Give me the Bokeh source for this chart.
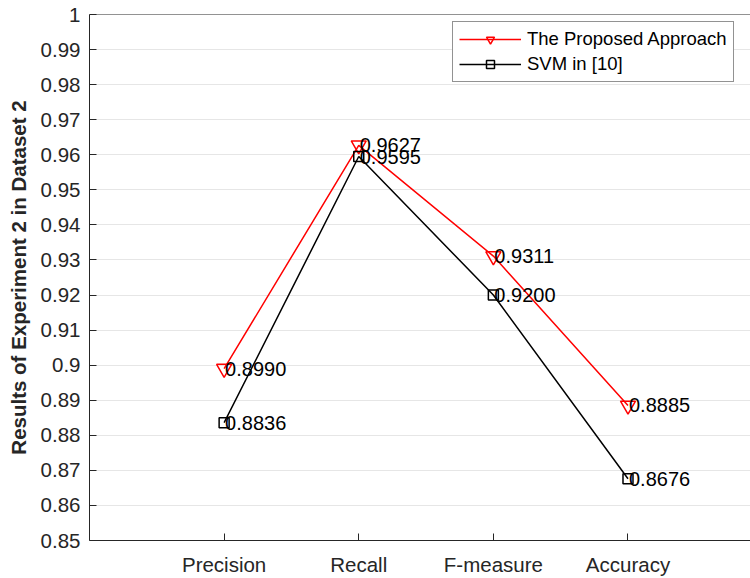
from bokeh.plotting import figure
from bokeh.models import (Range1d, FixedTicker, PrintfTickFormatter, Legend, LegendItem, Span)
from bokeh.core.properties import value
from bokeh.embed import file_html
from bokeh.resources import INLINE

categories = ["Precision", "Recall", "F-measure", "Accuracy"]
positions = [1, 2, 3, 4]
proposed = [0.8990, 0.9627, 0.9311, 0.8885]
svm = [0.8836, 0.9595, 0.9200, 0.8676]
y_ticks = [0.85, 0.86, 0.87, 0.88, 0.89, 0.90, 0.91, 0.92, 0.93, 0.94,
           0.95, 0.96, 0.97, 0.98, 0.99, 1.00]

FONT = "Liberation Sans"
AX = "#262626"

p = figure(width=750, height=578, output_backend="svg", toolbar_location=None,
           x_range=Range1d(0, 4.91), y_range=Range1d(0.85, 1.0),
           min_border_left=89, min_border_right=0, min_border_top=14, min_border_bottom=33)
p.outline_line_color = None
p.background_fill_color = "white"
p.border_fill_color = "white"

# axes
p.xaxis.ticker = FixedTicker(ticks=positions)
p.xaxis.major_label_overrides = {pos: c for pos, c in zip(positions, categories)}
p.yaxis.ticker = FixedTicker(ticks=y_ticks)
p.yaxis.formatter = PrintfTickFormatter(format="%g")
for ax in (p.xaxis, p.yaxis):
    ax.axis_line_color = AX
    ax.axis_line_width = 1
    ax.major_tick_line_color = AX
    ax.major_tick_in = 7
    ax.major_tick_out = 0
    ax.minor_tick_line_color = None
    ax.major_label_text_font = FONT
    ax.major_label_text_font_size = "20.5px"
    ax.major_label_text_color = AX
p.yaxis.major_label_standoff = 9
p.xaxis.major_label_standoff = 12
p.yaxis.axis_label = "Results of Experiment 2 in Dataset 2"
p.yaxis.axis_label_text_font = FONT
p.yaxis.axis_label_text_font_size = "20.5px"
p.yaxis.axis_label_text_font_style = "bold"
p.yaxis.axis_label_text_color = AX
p.yaxis.axis_label_standoff = 8

p.xgrid.grid_line_color = None
p.ygrid.grid_line_color = "#e6e6e6"
p.ygrid.grid_line_width = 1

p.add_layout(Span(location=1.0, dimension="width", line_color=AX, line_width=1))

# series
l1 = p.line(positions, proposed, line_color="#ff0000", line_width=1.5)
s1 = p.scatter(positions, proposed, marker="inverted_triangle", size=15,
               line_color="#ff0000", fill_color=None, line_width=1.5)
l2 = p.line(positions, svm, line_color="#000000", line_width=1.5)
s2 = p.scatter(positions, svm, marker="square", size=10,
               line_color="#000000", fill_color=None, line_width=1.5)

p.text(positions, proposed, text=[f"{v:.4f}" for v in proposed], x_offset=1,
       text_baseline="middle", text_align="left", text_font=value(FONT),
       text_font_size="20px", text_color="#000000")
p.text(positions, svm, text=[f"{v:.4f}" for v in svm], x_offset=1,
       text_baseline="middle", text_align="left", text_font=value(FONT),
       text_font_size="20px", text_color="#000000")

legend = Legend(items=[LegendItem(label="The Proposed Approach", renderers=[l1, s1]),
                       LegendItem(label="SVM in [10]", renderers=[l2, s2])],
                location=(363, 458))
legend.label_text_font = FONT
legend.label_text_font_size = "18.5px"
legend.label_text_color = "#000000"
legend.border_line_color = AX
legend.border_line_width = 1
legend.background_fill_color = "white"
legend.background_fill_alpha = 1
legend.glyph_width = 62
legend.glyph_height = 20
legend.label_standoff = 6
legend.padding = 6
legend.spacing = 3
legend.margin = 0
p.add_layout(legend)

open("out.html", "w").write(file_html(p, INLINE))
